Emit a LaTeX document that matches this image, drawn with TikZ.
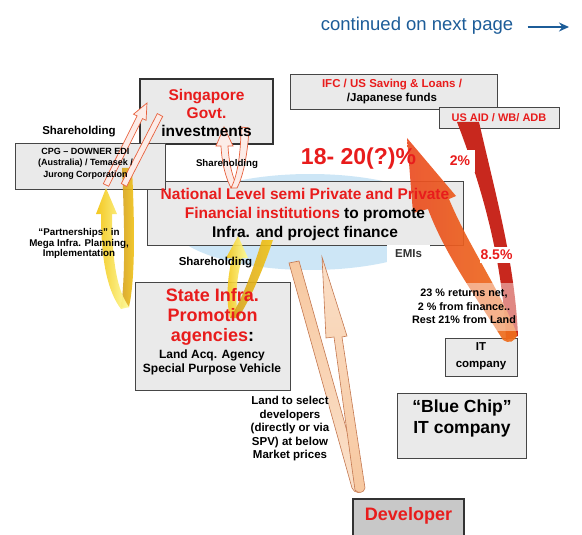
\documentclass[tikz,border=0pt]{standalone}
\usepackage{fontspec}
\setmainfont{Liberation Sans}
\usetikzlibrary{shadows,arrows.meta}

\definecolor{redtxt}{RGB}{232,28,28}
\definecolor{contblue}{RGB}{28,92,152}
\definecolor{boxgray}{RGB}{234,234,234}
\definecolor{devgray}{RGB}{200,200,200}
\definecolor{skyblue}{RGB}{205,230,246}
\definecolor{goldyel}{RGB}{242,196,20}
\definecolor{darkgold}{RGB}{212,160,30}
\definecolor{ribred}{RGB}{200,40,30}
\definecolor{riborange}{RGB}{234,76,34}
\definecolor{peach}{RGB}{247,200,160}
\definecolor{peachline}{RGB}{196,120,80}
\definecolor{shareline}{RGB}{232,96,60}

\tikzset{
  infobox/.style={draw=gray!55!black, line width=0.7pt, fill=boxgray,
    drop shadow={shadow xshift=1.2pt, shadow yshift=-1.2pt, opacity=0.2}},
  heavybox/.style={infobox, draw=black!80, line width=1.6pt},
  boxtext/.style={align=center, inner sep=0pt},
  whitetag/.style={fill=white, inner sep=0pt},
  sharestrand/.style={fill=shareline!12, draw=shareline, line width=0.7pt},
}

\begin{document}
\begin{tikzpicture}[x=1pt, y=-1pt, >=stealth]
  \clip (0,0) rectangle (582,535);

  % Blue EMI cloud
  \fill[skyblue] (310,222) ellipse [x radius=140pt, y radius=48pt];

  % Boxes
  \node[infobox, minimum width=316pt, minimum height=64pt] (natbox) at (305,213) {};
  \node[heavybox, minimum width=133pt, minimum height=65pt] (singbox) at (206.5,111.5) {};
  \node[infobox, minimum width=150pt, minimum height=46pt] (cpgbox) at (90,166) {};
  \node[infobox, minimum width=207pt, minimum height=35pt] (ifcbox) at (393.5,91.5) {};
  \node[infobox, minimum width=120pt, minimum height=21pt] (aidbox) at (499,117.5) {};
  \node[infobox, minimum width=155pt, minimum height=108pt] (statebox) at (212.5,336) {};
  \node[infobox, minimum width=72pt, minimum height=38pt] (itbox) at (481,357) {};
  \node[infobox, minimum width=129pt, minimum height=65pt] (chipbox) at (461.5,425.5) {};
  \node[heavybox, fill=devgray, minimum width=111pt, minimum height=49pt] (devbox) at (408.5,523.5) {};

  % Partnerships loop
  \shade[left color=darkgold, right color=goldyel, opacity=0.9]
    (122,168) -- (132,168) .. controls (135,230) and (135,280) .. (129,307)
    -- (121,307) .. controls (125,280) and (125,230) .. (122,168) -- cycle;
  \shade[left color=goldyel, right color=yellow!35, opacity=0.95]
    (96,214) -- (106,188) -- (117,214) -- (112,214)
    .. controls (112,262) and (117,290) .. (129,307)
    -- (121,309) .. controls (108,292) and (101,262) .. (101,214) -- cycle;

  % Shareholding loop, state to national
  \shade[left color=goldyel, right color=yellow!40, opacity=0.9]
    (226,258) -- (238,236) -- (248,258) -- (242,258)
    .. controls (236,280) and (235,300) .. (238,316)
    -- (230,318) .. controls (226,300) and (227,280) .. (232,258) -- cycle;
  \shade[left color=darkgold, right color=goldyel, opacity=0.9]
    (262,240) -- (273,240) .. controls (263,270) and (250,300) .. (238,318)
    -- (230,318) .. controls (242,300) and (253,270) .. (262,240) -- cycle;

  % Shareholding, CPG to Singapore
  \filldraw[sharestrand] (103.3,183.7) -- (137.1,115.9) -- (133.5,114.2) -- (147,103)
    -- (146.1,120.4) -- (142.5,118.6) -- (108.7,186.3) -- cycle;
  \filldraw[sharestrand] (157.3,113.6) -- (162.7,116.4) -- (126.7,186.4) -- (121.3,183.6) -- cycle;

  % Shareholding, Singapore to national
  \filldraw[sharestrand] (216,146) -- (224,127) -- (233,146) -- (228,146)
    .. controls (229,165) and (233,178) .. (237,186)
    -- (231,188) .. controls (226,178) and (222,165) .. (221,146) -- cycle;
  \filldraw[sharestrand] (241,127) -- (249,128) .. controls (248,150) and (244,175) .. (237,188)
    -- (231,188) .. controls (238,175) and (241,150) .. (241,127) -- cycle;

  % Finance loop
  \fill[ribred] (457,122) -- (479,122) .. controls (497,200) and (515,265) .. (518,336)
    -- (506,340) .. controls (503,270) and (487,200) .. (457,122) -- cycle;
  \shade[left color=riborange, right color=riborange!80!yellow, opacity=0.92]
    (407,138) -- (456,196) -- (449,199) .. controls (468,245) and (500,290) .. (517,334)
    .. controls (516,342) and (508,344) .. (503,340)
    .. controls (478,300) and (445,255) .. (428,209) -- (413,213) -- cycle;

  % Land loop
  \shade[top color=peach, bottom color=peach!55, draw=peachline, line width=0.6pt]
    (289,263) -- (299,261) -- (363,488) .. controls (363,494) and (354,494) .. (352,488) -- cycle;
  \shade[top color=peach!60, bottom color=peach, draw=peachline, line width=0.6pt]
    (355,490) -- (334,337) -- (326,338) -- (322,257) -- (347,336) -- (342,337)
    -- (365,488) .. controls (364,493) and (358,494) .. (355,490) -- cycle;

  % Box texts
  \node[boxtext, font=\bfseries\fontsize{15.5}{18}\selectfont] (sing) at (206.5,113)
    {\textcolor{redtxt}{Singapore}\\\textcolor{redtxt}{Govt.}\\investments};
  \node[boxtext, font=\bfseries\fontsize{15.5}{19}\selectfont] (nat) at (305,214)
    {\textcolor{redtxt}{National Level semi Private and Private}\\
     \textcolor{redtxt}{Financial institutions} to promote\\Infra. and project finance};
  \node[boxtext, font=\bfseries\fontsize{9}{11.5}\selectfont] (cpg) at (85.5,163.5)
    {CPG -- DOWNER EDI\\(Australia) / Temasek /\\Jurong Corporation};
  \node[boxtext, font=\bfseries\fontsize{11.5}{14}\selectfont] (ifc) at (392,92)
    {\textcolor{redtxt}{IFC / US Saving \& Loans /}\\/Japanese funds};
  \node[boxtext, font=\bfseries\fontsize{11}{13}\selectfont, text=redtxt] (aid) at (499,117.5)
    {US AID / WB/ ADB};
  \node[boxtext, font=\bfseries\fontsize{18}{20}\selectfont] (state) at (212.5,317)
    {\textcolor{redtxt}{State Infra.}\\\textcolor{redtxt}{Promotion}\\\textcolor{redtxt}{agencies}:};
  \node[boxtext, font=\bfseries\fontsize{12}{14}\selectfont] (statesub) at (212,362)
    {Land Acq. Agency\\Special Purpose Vehicle};
  \node[boxtext, font=\bfseries\fontsize{11.5}{17}\selectfont] (it) at (481,356.5)
    {IT\\company};
  \node[boxtext, font=\bfseries\fontsize{17.5}{21}\selectfont] (chip) at (462,418.5)
    {``Blue Chip''\\IT company};
  \node[boxtext, font=\bfseries\fontsize{18}{20}\selectfont, text=redtxt] (dev) at (408.5,516)
    {Developer};

  % Free labels
  \node[font=\bfseries\fontsize{11.5}{13}\selectfont] (share1) at (79,132) {Shareholding};
  \node[font=\bfseries\fontsize{9.7}{11}\selectfont] (share2) at (227,164) {Shareholding};
  \node[font=\bfseries\fontsize{11.5}{13}\selectfont] (share3) at (215.5,263) {Shareholding};
  \node[boxtext, font=\bfseries\fontsize{9.8}{10.5}\selectfont] (partner) at (79,243.5)
    {``Partnerships'' in\\Mega Infra. Planning,\\Implementation};
  \node[font=\bfseries\fontsize{23}{26}\selectfont, text=redtxt] (rate) at (358.5,159) {18- 20(?)\%};
  \node[whitetag, minimum width=30pt, minimum height=22pt,
    font=\bfseries\fontsize{14}{16}\selectfont, text=redtxt] (two) at (460,161) {2\%};
  \node[whitetag, minimum width=33pt, minimum height=16pt,
    font=\bfseries\fontsize{14}{16}\selectfont, text=redtxt] (eightfive) at (496.5,255) {8.5\%};
  \node[whitetag, minimum width=43pt, minimum height=18pt,
    font=\bfseries\fontsize{11.5}{13}\selectfont, text=gray!40!black] (emis) at (408.5,254) {EMIs};
  \node[boxtext, fill=white, fill opacity=0.45, text opacity=1, minimum width=112pt, minimum height=48pt,
    font=\bfseries\fontsize{10.8}{13.5}\selectfont] (returns) at (464,306.5)
    {23 \% returns net,\\2 \% from finance..\\Rest 21\% from Land};
  \node[boxtext, fill=white, fill opacity=0.5, text opacity=1,
    font=\bfseries\fontsize{11.5}{13.5}\selectfont] (land) at (290,429)
    {Land to select\\developers\\(directly or via\\SPV) at below\\Market prices};

  % Page note
  \node[font=\fontsize{18.5}{20}\selectfont, text=contblue] (cont) at (417,26) {continued on next page};
  \coordinate (contend) at (569,27);
  \draw[contblue, line width=1.6pt, -{Stealth[length=10pt, width=9pt]}]
    ([xshift=11pt, yshift=-1pt]cont.east) -- (contend);
\end{tikzpicture}
\end{document}
